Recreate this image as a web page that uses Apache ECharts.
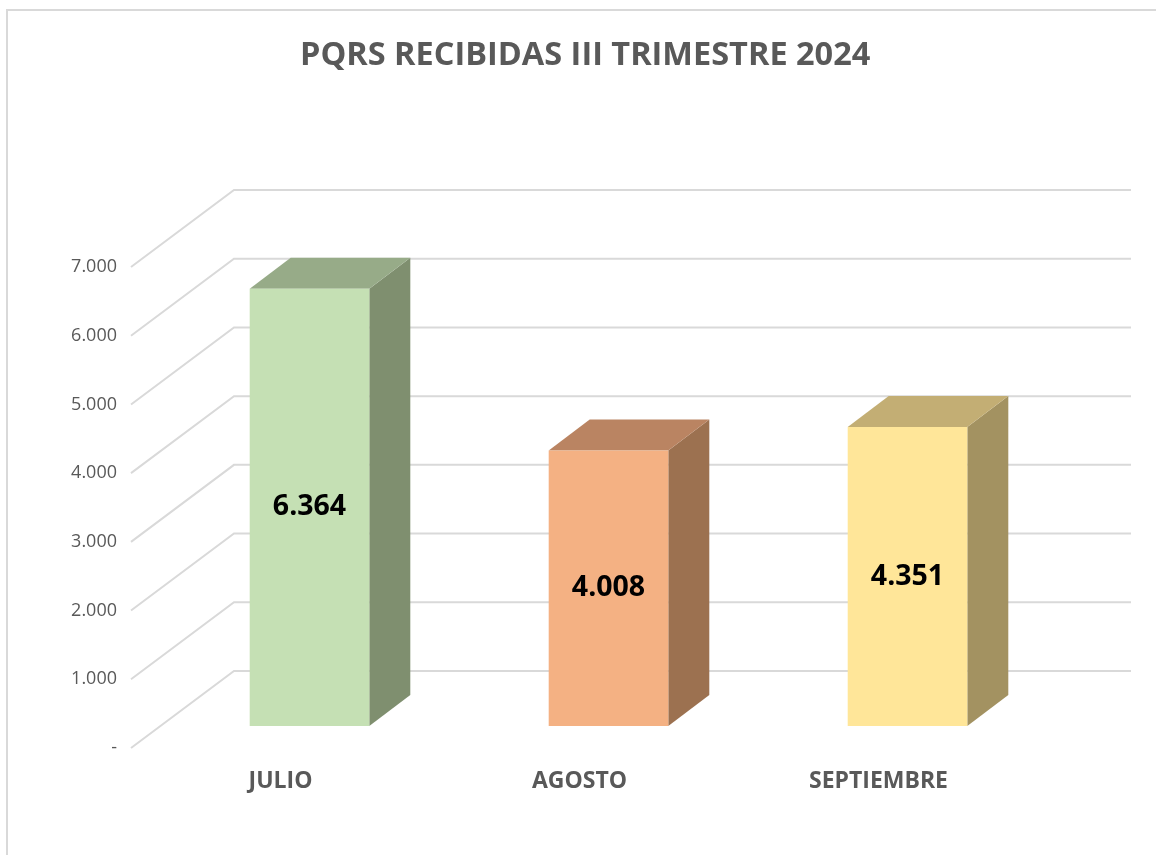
<!DOCTYPE html>
<html>
<head>
<meta charset="utf-8">
<title>PQRS RECIBIDAS III TRIMESTRE 2024</title>
<script src="https://cdn.jsdelivr.net/npm/echarts@6/dist/echarts.min.js"></script>
<style>
    html, body {margin: 0; padding: 0; background: #fff;}
    #main {width: 1156px; height: 855px;}
</style>
</head>
<body>
<div id="main"></div>
<script>
    //datos
    var meses = ['JULIO', 'AGOSTO', 'SEPTIEMBRE'];
    var recibidas = [6364, 4008, 4351];
    var ticks = [0, 1000, 2000, 3000, 4000, 5000, 6000, 7000];
    var colFrente = ['#C5E0B4', '#F4B183', '#FFE699'];
    var colTapa = ['#97AB88', '#BA8462', '#C3AE74'];
    var colLado = ['#7F8F6F', '#9C7150', '#A39261'];

    // profundidad (caja 3d tipo excel)
    var PARED = [103, -77];   // plano de etiquetas -> pared de fondo
    var FRENTE = [29, -22];   // plano de etiquetas -> cara frontal de barra
    var FONDO = [41, -31];    // grosor de la barra

    function fmt(v) {
        if (v === 0) return '-';
        return String(v).replace(/\B(?=(\d{3})+(?!\d))/g, '.');
    }

    var chart = echarts.init(document.getElementById('main'));

    var option = {
        animation: false,
        title: {
            text: 'PQRS RECIBIDAS III TRIMESTRE 2024',
            left: 295,
            top: 34,
            textStyle: {
                fontFamily: 'Open Sans',
                fontWeight: 'bold',
                fontSize: 32.5,
                color: '#595959'
            }
        },
        graphic: [{
            type: 'rect',
            shape: {x: 7, y: 10, width: 1170, height: 870},
            style: {fill: 'none', stroke: '#d9d9d9', lineWidth: 2},
            silent: true
        }],
        grid: {
            left: 131,
            right: 128,
            top: 267,
            bottom: 107
        },
        xAxis: {
            type: 'category',
            data: meses,
            axisLine: {show: false},
            axisTick: {show: false},
            axisLabel: {
                margin: 22,
                fontFamily: 'Open Sans',
                fontWeight: 'bold',
                fontSize: 23,
                color: '#595959'
            }
        },
        yAxis: {
            type: 'value',
            min: 0,
            max: 7000,
            interval: 1000,
            axisLine: {show: false},
            axisTick: {show: false},
            splitLine: {show: false},
            axisLabel: {
                margin: 14,
                fontFamily: 'Open Sans',
                fontSize: 18,
                color: '#595959',
                formatter: fmt
            }
        },
        series: [
            //lineas de la pared
            {
                type: 'custom',
                silent: true,
                data: ticks.map(function (t) { return [0, t]; }),
                renderItem: function (params, api) {
                    var cs = params.coordSys;
                    var y = api.coord([0, api.value(1)])[1];
                    return {
                        type: 'polyline',
                        shape: {
                            points: [
                                [cs.x, y],
                                [cs.x + PARED[0], y + PARED[1]],
                                [cs.x + cs.width + PARED[0], y + PARED[1]]
                            ]
                        },
                        style: {fill: null, stroke: '#d9d9d9', lineWidth: 2}
                    };
                },
                z: 1
            },
            //barras
            {
                type: 'custom',
                data: recibidas.map(function (v, i) { return [i, v]; }),
                renderItem: function (params, api) {
                    var i = api.value(0);
                    var base = api.coord([i, 0]);
                    var tope = api.coord([i, api.value(1)]);
                    var w = api.size([1, 0])[0] * 0.4;
                    var x0 = base[0] + FRENTE[0] - w / 2;
                    var x1 = x0 + w;
                    var yb = base[1] + FRENTE[1];
                    var yt = tope[1] + FRENTE[1];
                    var dx = FONDO[0], dy = FONDO[1];
                    return {
                        type: 'group',
                        children: [
                            {
                                type: 'polygon',
                                shape: {points: [[x1, yt], [x1 + dx, yt + dy], [x1 + dx, yb + dy], [x1, yb]]},
                                style: {fill: colLado[i]}
                            },
                            {
                                type: 'polygon',
                                shape: {points: [[x0, yt], [x0 + dx, yt + dy], [x1 + dx, yt + dy], [x1, yt]]},
                                style: {fill: colTapa[i]}
                            },
                            {
                                type: 'rect',
                                shape: {x: x0, y: yt, width: w, height: yb - yt},
                                style: {fill: colFrente[i]}
                            },
                            {
                                type: 'text',
                                style: {
                                    text: fmt(api.value(1)),
                                    x: (x0 + x1) / 2,
                                    y: (yt + yb) / 2,
                                    align: 'center',
                                    verticalAlign: 'middle',
                                    fontFamily: 'Open Sans',
                                    fontWeight: 'bold',
                                    fontSize: 28.5,
                                    fill: '#000'
                                }
                            }
                        ]
                    };
                },
                z: 2
            }
        ]
    };

    chart.setOption(option);
</script>
</body>
</html>
